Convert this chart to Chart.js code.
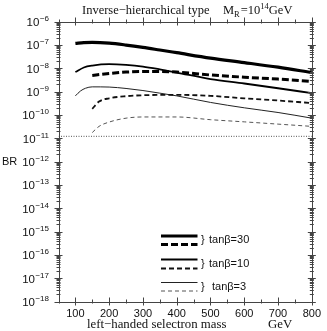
<!DOCTYPE html>
<html><head><meta charset="utf-8">
<script src="https://cdn.jsdelivr.net/npm/chart.js@4.4.1/dist/chart.umd.min.js"></script>
<style>html,body{margin:0;padding:0;background:#fff}#wrap{width:327px;height:331px;position:relative}</style>
</head><body><div id="wrap"><canvas id="c" width="327" height="331"></canvas></div>
<script>
// ---- data ----
const xSolid = [100,125,150,200,250,300,350,400,500,600,700,800];
const br30Solid = [1.15e-7,1.25e-7,1.27e-7,1.18e-7,9.8e-8,7.8e-8,6.0e-8,4.6e-8,2.7e-8,1.74e-8,1.1e-8,6.5e-9];
const br10Solid = [6.8e-9,1.07e-8,1.29e-8,1.48e-8,1.38e-8,1.17e-8,8.9e-9,6.5e-9,3.4e-9,2.2e-9,1.38e-9,8.5e-10];
const x3Solid = [100,115,130,150,200,250,300,350,400,500,600,700,800];
const br3Solid = [6.5e-10,1.05e-9,1.38e-9,1.58e-9,1.55e-9,1.35e-9,1.1e-9,8.5e-10,6.5e-10,3.4e-10,2.0e-10,1.26e-10,7.2e-11];
const x30Dash = [150,200,250,300,350,400,500,600,700,800];
const br30Dash = [4.9e-9,5.9e-9,6.8e-9,7.2e-9,7.2e-9,6.8e-9,5.1e-9,4.1e-9,3.4e-9,2.7e-9];
const xDash = [150,170,200,250,300,400,500,600,700,800];
const br10Dash = [1.8e-10,3.7e-10,5.1e-10,6.3e-10,6.9e-10,7.2e-10,6.5e-10,5.1e-10,4.1e-10,3.2e-10];
const br3Dash = [1.74e-11,3.2e-11,4.9e-11,7.2e-11,8.1e-11,8.1e-11,6.2e-11,5.0e-11,4.0e-11,3.2e-11];
const boundX = [50,800];
const boundBR = [1.2e-11,1.2e-11];
const xTicks = [100,200,300,400,500,600,700,800];
const yExps = [-6,-7,-8,-9,-10,-11,-12,-13,-14,-15,-16,-17,-18];
const legendLabels = ['tanβ=30','tanβ=10','tanβ=3'];
const titleText = 'Inverse−hierarchical type';
const xTitleText = 'left−handed selectron mass';
const xUnitText = 'GeV';
const yTitleText = 'BR';

const pts = (xs,ys) => xs.map((x,i)=>({x:x,y:ys[i]}));

const styles = [
  {w:3.2, dash:[], col:'#000'},
  {w:3.0, dash:[7,3], col:'#000'},
  {w:1.8, dash:[], col:'#000'},
  {w:1.8, dash:[5,3], col:'#111'},
  {w:1.0, dash:[], col:'#222'},
  {w:1.0, dash:[4,3], col:'#555'}
];
function ds(data, s){
  return {data:data, borderColor:s.col, borderWidth:s.w, borderDash:s.dash, pointRadius:0,
    fill:false, cubicInterpolationMode:'monotone', borderCapStyle:'butt'};
}

const decor = {
  id:'decor',
  afterDraw(chart){
    const ctx = chart.ctx, a = chart.chartArea;
    const xs = chart.scales.x, ys = chart.scales.y;
    ctx.save();
    ctx.strokeStyle = '#444'; ctx.lineWidth = 1; ctx.setLineDash([]);
    ctx.strokeRect(Math.round(a.left)+0.5, Math.round(a.top)+0.5, Math.round(a.right-a.left), Math.round(a.bottom-a.top));
    // y ticks (major + minor), both sides
    ctx.beginPath();
    yExps.forEach(e=>{
      for(let m=1;m<=9;m++){
        const v = m*Math.pow(10,e);
        if(v>ys.max*1.0001||v<ys.min*0.9999) continue;
        const p = Math.round(ys.getPixelForValue(v))+0.5;
        const L = m===1?4:2;
        ctx.moveTo(a.left-L,p); ctx.lineTo(a.left+L,p);
        ctx.moveTo(a.right-L,p); ctx.lineTo(a.right+L,p);
      }
    });
    // x ticks
    for(let v=xs.min; v<=xs.max; v+=50){
      const p = Math.round(xs.getPixelForValue(v))+0.5;
      const L = (v%100===0)?4:2;
      ctx.moveTo(p,a.bottom-L); ctx.lineTo(p,a.bottom+L);
      ctx.moveTo(p,a.top-L); ctx.lineTo(p,a.top+L);
    }
    ctx.stroke();
    // y tick labels: 10 with superscript exponent
    ctx.fillStyle = '#111';
    ys.ticks.forEach(t=>{
      const e = Math.round(Math.log10(t.value));
      const p = ys.getPixelForValue(t.value);
      ctx.textAlign='right'; ctx.textBaseline='alphabetic';
      ctx.font = '8px "Liberation Sans"';
      const es = '−'+Math.abs(e);
      const ew = ctx.measureText(es).width;
      ctx.fillText(es, 49, p-0.5);
      ctx.font = '11.5px "Liberation Sans"';
      ctx.fillText('10', 49-ew-0.5, p+4.5);
    });
    // title
    ctx.textBaseline = 'alphabetic'; ctx.textAlign='left';
    ctx.font = '12.5px "Liberation Serif"';
    ctx.fillText(titleText, 82, 14);
    let x = 223;
    ctx.font = '12.5px "Liberation Serif"'; ctx.fillText('M', x, 14); x += ctx.measureText('M').width;
    ctx.font = '8.5px "Liberation Serif"'; ctx.fillText('R', x, 16.5); x += ctx.measureText('R').width+1;
    ctx.font = '12.5px "Liberation Serif"'; ctx.fillText('=10', x, 14); x += ctx.measureText('=10').width;
    ctx.font = '8.5px "Liberation Serif"'; ctx.fillText('14', x, 9); x += ctx.measureText('14').width;
    ctx.font = '12.5px "Liberation Serif"'; ctx.fillText('GeV', x, 14);
    // x title
    ctx.font = '12.8px "Liberation Serif"';
    ctx.fillText(xTitleText, 87, 328);
    ctx.fillText(xUnitText, 268, 328);
    // y title
    ctx.font = '11px "Liberation Sans"'; ctx.textBaseline='middle';
    ctx.fillText(yTitleText, 2, ys.getPixelForValue(1e-12));
    // legend
    const ly = [[236,244.5],[259.5,268.5],[282.5,291]];
    ly.forEach((pair,i)=>{
      [0,1].forEach(j=>{
        const s = styles[i*2+j];
        ctx.beginPath(); ctx.strokeStyle=s.col; ctx.lineWidth=s.w; ctx.setLineDash(s.dash);
        ctx.moveTo(161,pair[j]); ctx.lineTo(197.5,pair[j]); ctx.stroke();
      });
      ctx.setLineDash([]);
      ctx.fillStyle='#111';
      ctx.font = '11px "Liberation Sans"'; ctx.textBaseline='middle';
      const cy = (pair[0]+pair[1])/2;
      ctx.fillText('}', 201, cy);
      ctx.fillText(legendLabels[i], i===2?212:209, cy);
    });
    ctx.restore();
  }
};

new Chart(document.getElementById('c'), {
  type:'line',
  data:{datasets:[
    ds(pts(xSolid,br30Solid), styles[0]),
    ds(pts(x30Dash,br30Dash), styles[1]),
    ds(pts(xSolid,br10Solid), styles[2]),
    ds(pts(xDash,br10Dash), styles[3]),
    ds(pts(x3Solid,br3Solid), styles[4]),
    ds(pts(xDash,br3Dash), styles[5]),
    {data:pts(boundX,boundBR), borderColor:'#555', borderWidth:1, borderDash:[1,1.5], pointRadius:0, fill:false}
  ]},
  options:{
    responsive:false, animation:false, devicePixelRatio:1,
    layout:{padding:{left:0,right:10.5,top:21.5,bottom:0}},
    plugins:{legend:{display:false}, tooltip:{enabled:false}, title:{display:false}},
    scales:{
      x:{type:'linear', min:50, max:800,
        grid:{display:false, drawTicks:false}, border:{display:false},
        afterFit(s){ s.height = 29.5; },
        afterBuildTicks(s){ s.ticks = xTicks.map(v=>({value:v})); },
        ticks:{padding:6, color:'#111', font:{family:'Liberation Sans', size:11}, maxRotation:0, autoSkip:false}
      },
      y:{type:'logarithmic', min:1e-18, max:1e-6,
        grid:{display:false, drawTicks:false}, border:{display:false},
        afterFit(s){ s.width = 58.5; },
        afterBuildTicks(s){ s.ticks = yExps.map(e=>({value:Math.pow(10,e)})); },
        ticks:{display:false, autoSkip:false}
      }
    }
  },
  plugins:[decor]
});
</script></body></html>
